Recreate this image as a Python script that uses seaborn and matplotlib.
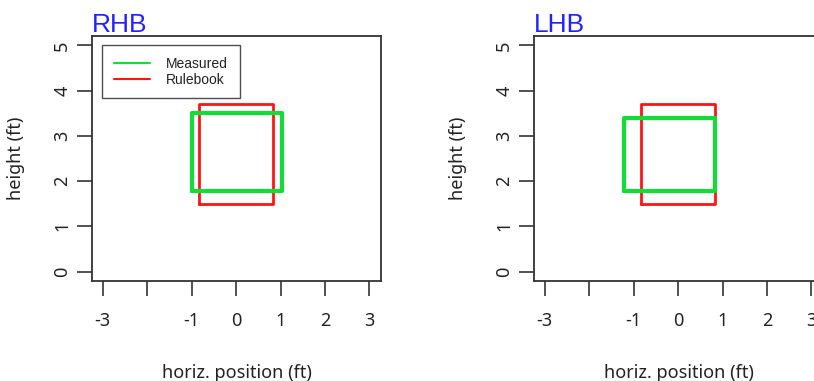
import numpy as np
import matplotlib
matplotlib.use("Agg")
import matplotlib.pyplot as plt
import seaborn as sns
import pandas as pd

# strike zone extents (ft): [x_left, x_right, z_bottom, z_top]
panels = ["RHB", "LHB"]
rulebook = {"RHB": [-0.83, 0.83, 1.50, 3.70],
            "LHB": [-0.83, 0.83, 1.50, 3.70]}
measured = {"RHB": [-1.00, 1.03, 1.78, 3.50],
            "LHB": [-1.22, 0.84, 1.78, 3.40]}
x_ticks = [-3, -2, -1, 0, 1, 2, 3]
x_ticklabels = ["-3", "", "-1", "0", "1", "2", "3"]
y_ticks = [0, 1, 2, 3, 4, 5]

sns.set_theme(style="white")
plt.rcParams["font.family"] = ["Noto Sans", "DejaVu Sans"]

GREEN = "#12dc35"
RED = "#ff1414"
AX_COL = "#333333"


def box_frame(ext, name):
    x0, x1, y0, y1 = ext
    return pd.DataFrame({"x": [x0, x1, x1, x0, x0],
                         "y": [y0, y0, y1, y1, y0],
                         "zone": name})


fig = plt.figure(figsize=(8.14, 3.81), dpi=100)
lefts = [92 / 814, 534 / 814]

for i, name in enumerate(panels):
    ax = fig.add_axes([lefts[i], 100 / 381, 289 / 814, 245 / 381])
    df = pd.concat([box_frame(measured[name], "Measured"),
                    box_frame(rulebook[name], "Rulebook")])
    sns.lineplot(data=df[df.zone == "Rulebook"], x="x", y="y", sort=False,
                 estimator=None, color=RED, linewidth=2.0, ax=ax)
    sns.lineplot(data=df[df.zone == "Measured"], x="x", y="y", sort=False,
                 estimator=None, color=GREEN, linewidth=3.0, ax=ax)

    ax.set_xlim(-3.24, 3.26)
    ax.set_ylim(-0.21, 5.21)
    ax.set_xticks(x_ticks)
    ax.set_xticklabels(x_ticklabels)
    ax.set_yticks(y_ticks)
    ax.set_yticklabels([str(v) for v in y_ticks], rotation=90, va="center")
    ax.tick_params(axis="x", direction="out", length=11, width=1.2,
                   color=AX_COL, pad=11, labelsize=13, labelcolor="#222222")
    ax.tick_params(axis="y", direction="out", length=11, width=1.2,
                   color=AX_COL, pad=4, labelsize=13, labelcolor="#222222")
    ax.tick_params(bottom=True, left=True)
    for sp in ax.spines.values():
        sp.set_color(AX_COL)
        sp.set_linewidth(1.3)

    ax.set_xlabel("horiz. position (ft)", fontsize=13, color="#222222")
    ax.set_ylabel("height (ft)", fontsize=13, color="#222222")
    ax.xaxis.set_label_coords(0.5, -0.34)
    ax.yaxis.set_label_coords(-0.232, 0.5)

    ax.set_title(name, loc="left", color="#2222ff", fontsize=19, pad=3,
                 family="Liberation Sans")

    if name == "RHB":
        handles = [plt.Line2D([], [], color=GREEN, linewidth=1.5),
                   plt.Line2D([], [], color=RED, linewidth=1.5)]
        leg = ax.legend(handles, ["Measured", "Rulebook"], loc="upper left",
                        bbox_to_anchor=(0.035, 0.963), borderaxespad=0,
                        frameon=True, fancybox=False, edgecolor="#222222",
                        handlelength=2.6, handletextpad=1.15,
                        labelspacing=0.12, borderpad=0.85,
                        prop={"family": "Liberation Sans", "size": 10})
        leg.get_frame().set_linewidth(1.0)
        for t in leg.get_texts():
            t.set_color("#222222")
    elif ax.get_legend() is not None:
        ax.get_legend().remove()

fig.savefig("out.png", dpi=100)
